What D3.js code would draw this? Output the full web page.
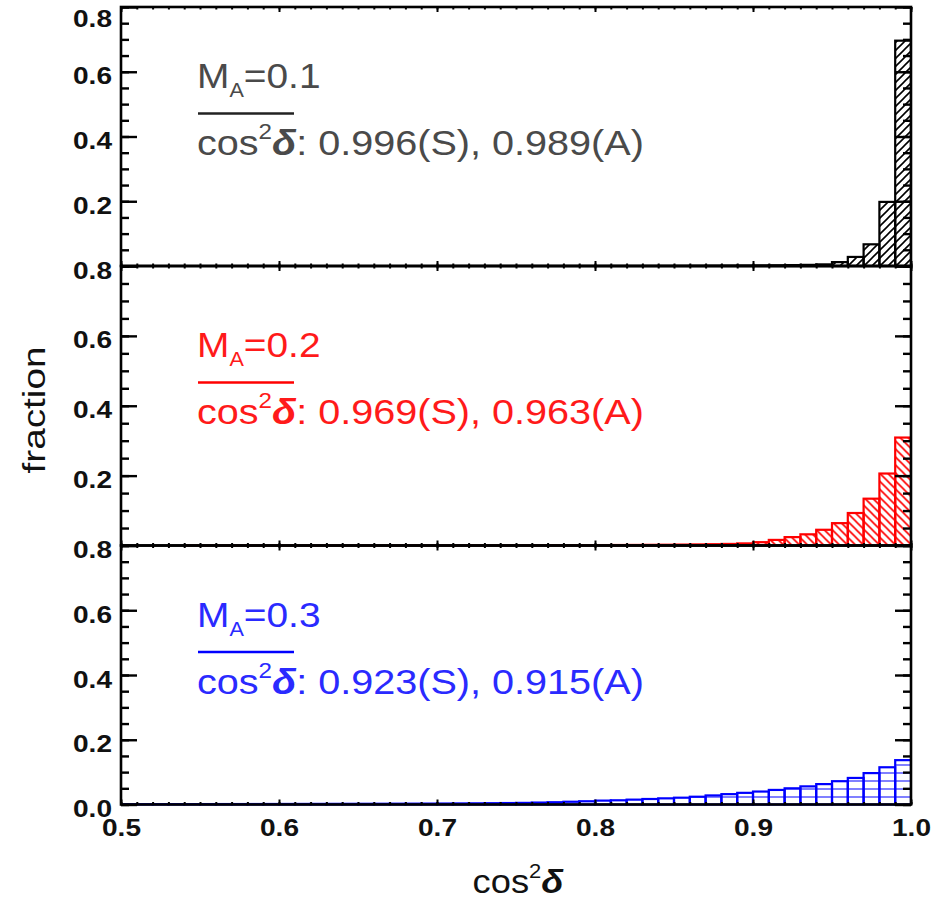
<!DOCTYPE html>
<html>
<head>
<meta charset="utf-8">
<script src="https://cdn.jsdelivr.net/npm/d3@7"></script>
<style>
  body { margin: 0; background: #fff; }
  svg { display: block; }
  text { font-family: "Liberation Sans", Arial, Helvetica, sans-serif; }
</style>
</head>
<body>
<svg id="chart" width="935" height="901"></svg>
<script>
// Histogram bins of cos^2(delta): 50 bins of width 0.01 spanning 0.50 - 1.00
const binWidth = 0.01;
const binStarts = d3.range(50).map(i => +(0.5 + i * binWidth).toFixed(2));

// Fraction per bin, M_A = 0.1
const fracMA01 = [
  0.0000, 0.0000, 0.0000, 0.0000, 0.0000, 0.0000, 0.0000, 0.0000, 0.0000, 0.0000,
  0.0000, 0.0000, 0.0000, 0.0000, 0.0000, 0.0000, 0.0000, 0.0000, 0.0000, 0.0000,
  0.0001, 0.0001, 0.0001, 0.0001, 0.0001, 0.0001, 0.0001, 0.0001, 0.0002, 0.0002,
  0.0002, 0.0003, 0.0003, 0.0004, 0.0005, 0.0006, 0.0008, 0.0010, 0.0012, 0.0015,
  0.0018, 0.0022, 0.0028, 0.0035, 0.0050, 0.0120, 0.0280, 0.0670, 0.1980, 0.6960
];
// Fraction per bin, M_A = 0.2
const fracMA02 = [
  0.0000, 0.0000, 0.0000, 0.0000, 0.0001, 0.0001, 0.0001, 0.0001, 0.0001, 0.0001,
  0.0001, 0.0001, 0.0001, 0.0002, 0.0002, 0.0002, 0.0002, 0.0003, 0.0003, 0.0003,
  0.0004, 0.0004, 0.0005, 0.0005, 0.0006, 0.0006, 0.0007, 0.0008, 0.0009, 0.0010,
  0.0012, 0.0014, 0.0016, 0.0019, 0.0022, 0.0026, 0.0031, 0.0037, 0.0045, 0.0060,
  0.0095, 0.0160, 0.0240, 0.0320, 0.0450, 0.0640, 0.0930, 0.1340, 0.2060, 0.3090
];
// Fraction per bin, M_A = 0.3
const fracMA03 = [
  0.0010, 0.0011, 0.0011, 0.0012, 0.0012, 0.0013, 0.0014, 0.0014, 0.0015, 0.0016,
  0.0017, 0.0018, 0.0019, 0.0020, 0.0021, 0.0022, 0.0023, 0.0025, 0.0026, 0.0028,
  0.0030, 0.0033, 0.0036, 0.0040, 0.0045, 0.0050, 0.0060, 0.0070, 0.0085, 0.0100,
  0.0120, 0.0130, 0.0150, 0.0170, 0.0190, 0.0210, 0.0240, 0.0280, 0.0320, 0.0360,
  0.0400, 0.0450, 0.0500, 0.0560, 0.0630, 0.0720, 0.0820, 0.0970, 0.1150, 0.1370
];

// Panel annotations
const machLabels = ["0.1", "0.2", "0.3"];
const meanSim = ["0.996", "0.969", "0.923"];
const meanAna = ["0.989", "0.963", "0.915"];

// Axis ticks
const xMajorTicks = [0.5, 0.6, 0.7, 0.8, 0.9, 1.0];
const xMinorTicks = d3.range(0.5, 1.0001, 0.01);
const yMajorTicks = [0.0, 0.2, 0.4, 0.6, 0.8];
const yMinorTicks = d3.range(0, 0.8001, 0.05);
const yLabelled = [[0.2, 0.4, 0.6, 0.8], [0.2, 0.4, 0.6, 0.8], [0.0, 0.2, 0.4, 0.6, 0.8]];

const svg = d3.select("#chart");
const X0 = 121, X1 = 911;
const panelBounds = [[7, 266], [266, 545.5], [545.5, 804.5]];
const barColors = ["#000000", "#ff0000", "#0000ff"];
const textColors = ["#4a4a4a", "#ff1a1a", "#2a2aff"];
const hatchKinds = ["fwd", "back", "grid"];
const series = [fracMA01, fracMA02, fracMA03];
const tickFont = 24, tickStretch = 1.17;

const x = d3.scaleLinear().domain([0.5, 1.0]).range([X0, X1]);

const defs = svg.append("defs");

function makeHatch(id, kind, color, yBase) {
  const s = 8;
  const p = defs.append("pattern")
    .attr("id", id)
    .attr("patternUnits", "userSpaceOnUse")
    .attr("width", kind === "grid" ? 400 : s)
    .attr("height", s)
    .attr("y", yBase);
  if (kind === "fwd") {
    p.append("path").attr("d", `M${-s},${s} L${s},${-s} M0,${2*s} L${2*s},0 M${-s},${2*s} L${2*s},${-s}`)
      .attr("stroke", color).attr("stroke-width", 1.6);
  } else if (kind === "back") {
    p.append("path").attr("d", `M${-s},0 L${s},${2*s} M0,${-s} L${2*s},${s} M${-s},${-s} L${2*s},${2*s}`)
      .attr("stroke", color).attr("stroke-width", 1.6);
  } else {
    p.append("path").attr("d", `M0,0 L400,0`)
      .attr("stroke", color).attr("stroke-width", 2);
  }
}

panelBounds.forEach(([top, bottom], k) => {
  const y = d3.scaleLinear().domain([0, 0.8]).range([bottom, top]);
  const g = svg.append("g");
  const hatchId = "hatch" + k;
  makeHatch(hatchId, hatchKinds[k], barColors[k], bottom);

  const clipId = "clip" + k;
  defs.append("clipPath").attr("id", clipId)
    .append("rect").attr("x", X0).attr("y", top - 2).attr("width", X1 - X0).attr("height", bottom - top + 4);

  const bars = binStarts.map((b, i) => ({ b, v: series[k][i] }));

  // hatched fill
  g.append("g").attr("clip-path", `url(#${clipId})`)
    .selectAll("rect.fill").data(bars).join("rect")
    .attr("x", d => x(d.b))
    .attr("y", d => y(d.v))
    .attr("width", d => x(d.b + binWidth) - x(d.b))
    .attr("height", d => y(0) - y(d.v))
    .attr("fill", `url(#${hatchId})`);

  // bar outlines
  g.append("g").attr("clip-path", `url(#${clipId})`)
    .selectAll("rect.bar").data(bars).join("rect")
    .attr("x", d => x(d.b))
    .attr("y", d => y(d.v))
    .attr("width", d => x(d.b + binWidth) - x(d.b))
    .attr("height", d => y(0) - y(d.v))
    .attr("fill", "none")
    .attr("stroke", barColors[k])
    .attr("stroke-width", 2.2);

  // frame
  g.append("rect")
    .attr("x", X0).attr("y", top)
    .attr("width", X1 - X0).attr("height", bottom - top)
    .attr("fill", "none").attr("stroke", "#000").attr("stroke-width", 2.6);

  // y axes (ticks pointing inward on both sides)
  const yAxes = [
    [d3.axisLeft(y).tickValues(yMinorTicks).tickSize(-8), X0],
    [d3.axisLeft(y).tickValues(yMajorTicks).tickSize(-16), X0],
    [d3.axisRight(y).tickValues(yMinorTicks).tickSize(-8), X1],
    [d3.axisRight(y).tickValues(yMajorTicks).tickSize(-16), X1]
  ];
  yAxes.forEach(([ax, xp]) => {
    const a = g.append("g").attr("transform", `translate(${xp},0)`)
      .call(ax.tickFormat(""));
    a.select(".domain").remove();
    a.selectAll("line").attr("stroke", "#000").attr("stroke-width", 2.4);
  });

  // y tick labels
  const yl = g.append("g").attr("transform", `translate(${X0},0)`)
    .call(d3.axisLeft(y).tickValues(yLabelled[k]).tickSize(0).tickPadding(9).tickFormat(d3.format(".1f")));
  yl.select(".domain").remove();
  yl.selectAll("text")
    .attr("font-size", tickFont).attr("font-weight", "bold").attr("fill", "#111")
    .attr("font-family", "Liberation Sans, Arial, sans-serif")
    .attr("dy", d => (k === 0 && d === 0.8) ? "0.82em" : "0.5em")
    .attr("transform", `scale(${tickStretch},1)`)
    .attr("x", -9 / tickStretch);

  // x axes (small inward ticks, top and bottom)
  const xAxes = [
    [d3.axisBottom(x).tickValues(xMinorTicks).tickSize(-2.5), bottom],
    [d3.axisBottom(x).tickValues(xMajorTicks).tickSize(-5), bottom],
    [d3.axisTop(x).tickValues(xMinorTicks).tickSize(-2.5), top],
    [d3.axisTop(x).tickValues(xMajorTicks).tickSize(-5), top]
  ];
  xAxes.forEach(([ax, yp]) => {
    const a = g.append("g").attr("transform", `translate(0,${yp})`)
      .call(ax.tickFormat(""));
    a.select(".domain").remove();
    a.selectAll("line").attr("stroke", "#000").attr("stroke-width", 2);
  });

  // annotation: M_A and mean cos^2 delta
  const dy = [0, 269, 538.5][k];
  const tc = textColors[k];
  const t1 = g.append("text")
    .attr("transform", `translate(197,${88 + dy}) scale(1.08,1)`)
    .attr("font-size", 36).attr("fill", tc);
  t1.append("tspan").text("M");
  t1.append("tspan").attr("font-size", 20).attr("dy", 9).text("A");
  t1.append("tspan").attr("dy", -9).text("=" + machLabels[k]);

  g.append("line")
    .attr("x1", 198).attr("x2", 294)
    .attr("y1", 113.5 + dy).attr("y2", 113.5 + dy)
    .attr("stroke", k === 0 ? "#222" : barColors[k]).attr("stroke-width", 2.6);

  const t2 = g.append("text")
    .attr("transform", `translate(197,${155 + dy}) scale(1.1,1)`)
    .attr("font-size", 36).attr("fill", tc);
  t2.append("tspan").text("cos");
  t2.append("tspan").attr("font-size", 22).attr("dy", -16).text("2");
  t2.append("tspan").attr("dy", 16).attr("font-style", "italic").attr("font-weight", "bold").text("\u03b4");
  t2.append("tspan").text(`: ${meanSim[k]}(S), ${meanAna[k]}(A)`);
});

// x tick labels beneath bottom panel
const xl = svg.append("g").attr("transform", `translate(0,${panelBounds[2][1]})`)
  .call(d3.axisBottom(x).tickValues(xMajorTicks).tickSize(0).tickPadding(14).tickFormat(d3.format(".1f")));
xl.select(".domain").remove();
xl.selectAll("text")
  .attr("font-size", tickFont).attr("font-weight", "bold").attr("fill", "#111")
  .attr("font-family", "Liberation Sans, Arial, sans-serif")
  .attr("transform", `scale(${tickStretch},1)`);

// axis titles
const xt = svg.append("text")
  .attr("transform", "translate(518,893) scale(1.1,1)")
  .attr("text-anchor", "middle")
  .attr("font-size", 33).attr("fill", "#111");
xt.append("tspan").text("cos");
xt.append("tspan").attr("font-size", 20).attr("dy", -15).text("2");
xt.append("tspan").attr("dy", 15).attr("font-style", "italic").attr("font-weight", "bold").text("\u03b4");

svg.append("text")
  .attr("transform", "translate(45,410) rotate(-90) scale(1.25,1)")
  .attr("text-anchor", "middle")
  .attr("font-size", 31).attr("fill", "#111")
  .text("fraction");
</script>
</body>
</html>
